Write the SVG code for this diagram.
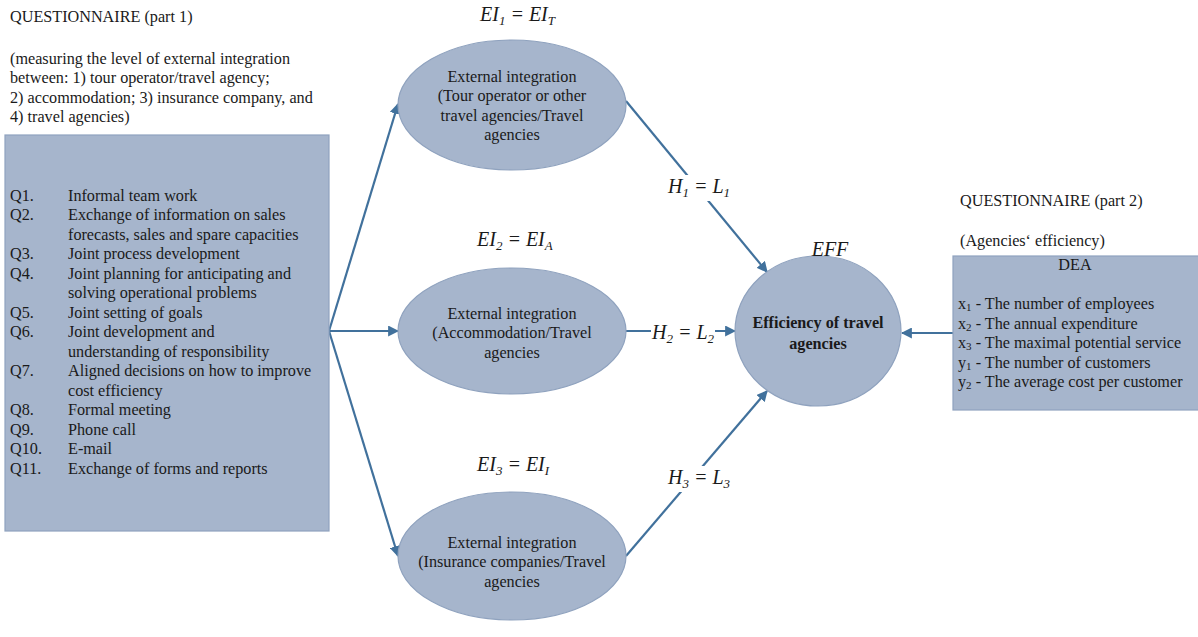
<svg xmlns="http://www.w3.org/2000/svg" width="1198" height="637" viewBox="0 0 1198 637">
<defs>
<marker id="ah" viewBox="0 0 10 10" refX="9" refY="5" markerWidth="11" markerHeight="11" markerUnits="userSpaceOnUse" orient="auto">
<path d="M0,0 L10,5 L0,10 z" fill="#41719C"/>
</marker>
<style>
.t{font-family:"Liberation Serif","Times New Roman",serif;font-size:16.2px;fill:#1a1a1a}
.c{text-anchor:middle}
.m{font-family:"Liberation Serif","Times New Roman",serif;font-size:20px;font-style:italic;fill:#1a1a1a}
.s{font-size:13px}
.d{font-size:11px}
.shape{fill:#A6B5CC;stroke:#8FA2BE;stroke-width:1.2}
.con{stroke:#41719C;stroke-width:2.2;fill:none;marker-end:url(#ah)}
.bg{fill:#fff}
</style>
</defs>
<rect width="1198" height="637" fill="#fff"/>

<g id="connectors">
<line class="con" x1="329" y1="331" x2="398" y2="104"/>
<line class="con" x1="329" y1="331" x2="398" y2="331"/>
<line class="con" x1="329" y1="331" x2="398" y2="556"/>
<line class="con" x1="626" y1="101" x2="767" y2="272"/>
<line class="con" x1="626" y1="331" x2="735" y2="331"/>
<line class="con" x1="626" y1="556" x2="767" y2="391"/>
<line class="con" x1="953" y1="333" x2="902" y2="333"/>
</g>

<g id="q1-header">
<text class="t" x="10" y="22">QUESTIONNAIRE (part 1)</text>
<text class="t" x="10" y="64">(measuring the level of external integration</text>
<text class="t" x="10" y="83">between: 1) tour operator/travel agency;</text>
<text class="t" x="10" y="103">2) accommodation; 3) insurance company, and</text>
<text class="t" x="10" y="122">4) travel agencies)</text>
</g>

<g id="q1-box">
<rect class="shape" x="5" y="135" width="324" height="396"/>
<text class="t" x="10" y="201">Q1.</text><text class="t" x="68" y="201">Informal team work</text>
<text class="t" x="10" y="220">Q2.</text><text class="t" x="68" y="220">Exchange of information on sales</text>
<text class="t" x="68" y="240">forecasts, sales and spare capacities</text>
<text class="t" x="10" y="259">Q3.</text><text class="t" x="68" y="259">Joint process development</text>
<text class="t" x="10" y="279">Q4.</text><text class="t" x="68" y="279">Joint planning for anticipating and</text>
<text class="t" x="68" y="298">solving operational problems</text>
<text class="t" x="10" y="318">Q5.</text><text class="t" x="68" y="318">Joint setting of goals</text>
<text class="t" x="10" y="337">Q6.</text><text class="t" x="68" y="337">Joint development and</text>
<text class="t" x="68" y="357">understanding of responsibility</text>
<text class="t" x="10" y="376">Q7.</text><text class="t" x="68" y="376">Aligned decisions on how to improve</text>
<text class="t" x="68" y="396">cost efficiency</text>
<text class="t" x="10" y="415">Q8.</text><text class="t" x="68" y="415">Formal meeting</text>
<text class="t" x="10" y="435">Q9.</text><text class="t" x="68" y="435">Phone call</text>
<text class="t" x="10" y="454">Q10.</text><text class="t" x="68" y="454">E-mail</text>
<text class="t" x="10" y="474">Q11.</text><text class="t" x="68" y="474">Exchange of forms and reports</text>
</g>

<g id="ei1">
<ellipse class="shape" cx="512" cy="105" rx="114" ry="65"/>
<text class="t c" x="512" y="82">External integration</text>
<text class="t c" x="512" y="101">(Tour operator or other</text>
<text class="t c" x="512" y="121">travel agencies/Travel</text>
<text class="t c" x="512" y="140">agencies</text>
<text class="m" x="480" y="21">EI<tspan class="s" dy="4">1</tspan><tspan dy="-4"> = EI</tspan><tspan class="s" dy="4">T</tspan></text>
</g>

<g id="ei2">
<ellipse class="shape" cx="512" cy="331" rx="114" ry="63"/>
<text class="t c" x="512" y="319">External integration</text>
<text class="t c" x="512" y="338">(Accommodation/Travel</text>
<text class="t c" x="512" y="358">agencies</text>
<text class="m" x="477" y="246">EI<tspan class="s" dy="4">2</tspan><tspan dy="-4"> = EI</tspan><tspan class="s" dy="4">A</tspan></text>
</g>

<g id="ei3">
<ellipse class="shape" cx="512" cy="556" rx="114" ry="64"/>
<text class="t c" x="512" y="548">External integration</text>
<text class="t c" x="512" y="567">(Insurance companies/Travel</text>
<text class="t c" x="512" y="587">agencies</text>
<text class="m" x="477" y="471">EI<tspan class="s" dy="4">3</tspan><tspan dy="-4"> = EI</tspan><tspan class="s" dy="4">I</tspan></text>
</g>

<g id="h-labels">
<rect class="bg" x="664" y="175" width="70" height="26"/>
<text class="m" x="668" y="193">H<tspan class="s" dy="4">1</tspan><tspan dy="-4"> = L</tspan><tspan class="s" dy="4">1</tspan></text>
<rect class="bg" x="651" y="321" width="64" height="24"/>
<text class="m" x="652" y="339">H<tspan class="s" dy="4">2</tspan><tspan dy="-4"> = L</tspan><tspan class="s" dy="4">2</tspan></text>
<rect class="bg" x="664" y="466" width="70" height="26"/>
<text class="m" x="668" y="484">H<tspan class="s" dy="4">3</tspan><tspan dy="-4"> = L</tspan><tspan class="s" dy="4">3</tspan></text>
</g>

<g id="eff">
<ellipse class="shape" cx="818" cy="331" rx="83" ry="75"/>
<text class="m" x="830" y="256" text-anchor="middle">EFF</text>
<text class="t c" x="818" y="328" font-weight="bold">Efficiency of travel</text>
<text class="t c" x="818" y="349" font-weight="bold">agencies</text>
</g>

<g id="q2-header">
<text class="t" x="960" y="206">QUESTIONNAIRE (part 2)</text>
<text class="t" x="960" y="246">(Agencies‘ efficiency)</text>
</g>

<g id="dea">
<rect class="shape" x="953" y="256" width="250" height="154"/>
<text class="t c" x="1075" y="270">DEA</text>
<text class="t" x="958" y="309">x<tspan class="d" dy="2">1</tspan><tspan dy="-2"> - The number of employees</tspan></text>
<text class="t" x="958" y="329">x<tspan class="d" dy="2">2</tspan><tspan dy="-2"> - The annual expenditure</tspan></text>
<text class="t" x="958" y="348">x<tspan class="d" dy="2">3</tspan><tspan dy="-2"> - The maximal potential service</tspan></text>
<text class="t" x="958" y="368">y<tspan class="d" dy="2">1</tspan><tspan dy="-2"> - The number of customers</tspan></text>
<text class="t" x="958" y="387">y<tspan class="d" dy="2">2</tspan><tspan dy="-2"> - The average cost per customer</tspan></text>
</g>
</svg>
